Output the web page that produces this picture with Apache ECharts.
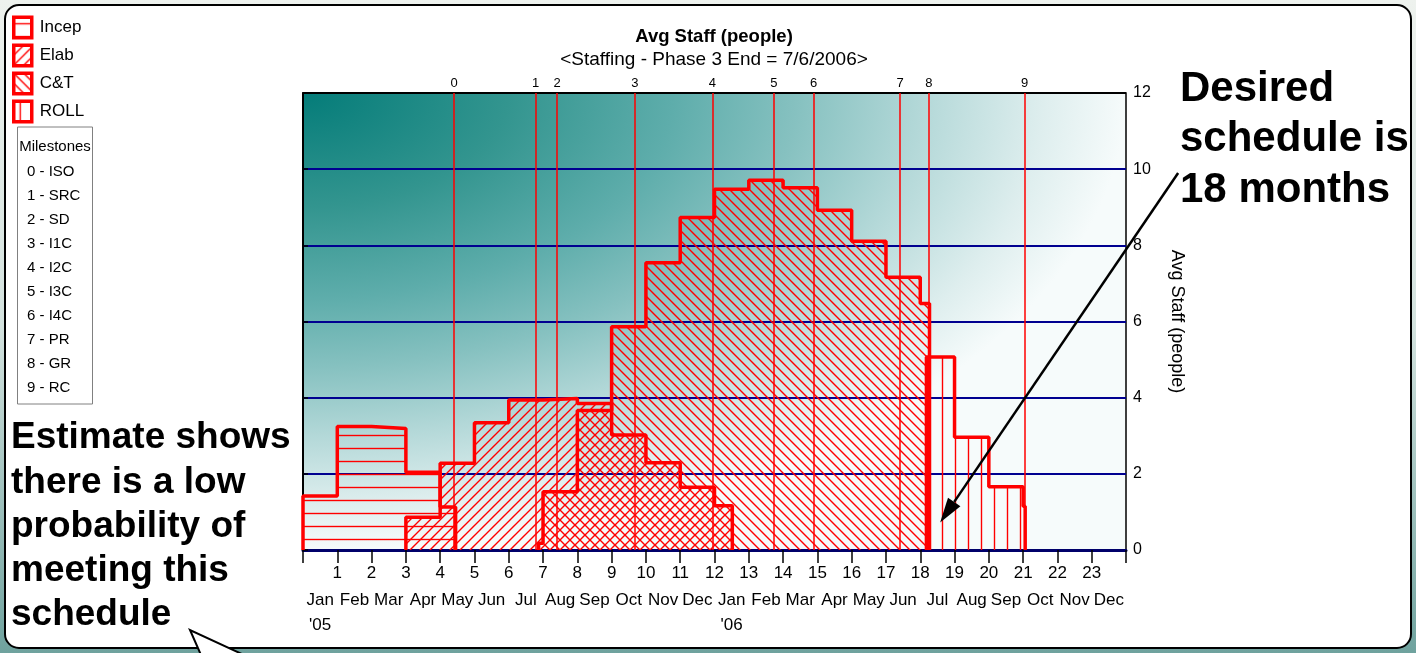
<!DOCTYPE html>
<html><head><meta charset="utf-8">
<script src="https://cdn.jsdelivr.net/npm/echarts@6/dist/echarts.min.js"></script>
<style>
html,body{margin:0;padding:0;}
#c{width:1416px;height:653px;background:linear-gradient(180deg,#eef2ee 0%,#d3e2de 50%,#6fa29e 100%);}
</style>
</head><body><div id="c"></div>
<script>
// ---------------- data ----------------
const monthNames = ['Jan','Feb','Mar','Apr','May','Jun','Jul','Aug','Sep','Oct','Nov','Dec',
                    'Jan','Feb','Mar','Apr','May','Jun','Jul','Aug','Sep','Oct','Nov','Dec'];
const yearLabels = ["'05",'','','','','','','','','','','',"'06",'','','','','','','','','','',''];
const phaseNames = ['Incep','Elab','C&T','ROLL'];
// step boundaries (months) and average staff per step
const incepBounds = [0, 1, 2, 3, 4, 4.45];
const incepValues = [1.42, 3.24, 3.19, 2.04, 1.13];
const elabBounds  = [3, 4, 5, 6, 7, 8, 9, 10, 11, 12, 12.52];
const elabValues  = [0.86, 2.28, 3.34, 3.94, 3.98, 3.85, 3.02, 2.29, 1.65, 1.16];
const ctBounds    = [6.87, 7, 8, 9, 10, 11, 12, 13, 14, 15, 16, 17, 18, 18.27];
const ctValues    = [0.18, 1.53, 3.66, 5.86, 7.54, 8.73, 9.47, 9.71, 9.51, 8.92, 8.11, 7.16, 6.47];
const rollBounds  = [18.18, 19, 20, 21, 21.06];
const rollValues  = [5.07, 2.96, 1.66, 1.15];
const milestoneNames  = ['ISO','SRC','SD','I1C','I2C','I3C','I4C','PR','GR','RC'];
const milestoneMonths = [4.41, 6.78, 7.41, 9.68, 11.94, 13.73, 14.89, 17.41, 18.25, 21.04];
const xMin = 0, xMax = 24, yMin = 0, yMax = 12, yStep = 2;
const arrowTip = [18.58, 0.72], arrowTail = [25.52, 9.9];

// ---------------- styling ----------------
const NARROW = '"Liberation Sans Narrow","Arial Narrow","Liberation Sans",Arial,sans-serif';
const SANS = '"Liberation Sans",Arial,sans-serif';
const RED = '#ff0000';
const GRID = {left: 303, top: 93, width: 823, height: 457};

function hatch(kind) {
  const s = (kind === 'h' || kind === 'v') ? 13 : 10;
  const c = document.createElement('canvas'); c.width = s; c.height = s;
  const g = c.getContext('2d'); g.strokeStyle = RED; g.lineWidth = 1.4;
  g.beginPath();
  if (kind === 'h') { g.moveTo(0, 6.5); g.lineTo(s, 6.5); }
  if (kind === 'v') { g.moveTo(6.5, 0); g.lineTo(6.5, s); }
  if (kind === '/') { g.moveTo(-2, s + 2); g.lineTo(s + 2, -2); g.moveTo(-2, 2); g.lineTo(2, -2); g.moveTo(s - 2, s + 2); g.lineTo(s + 2, s - 2); }
  if (kind === '\\') { g.moveTo(-2, -2); g.lineTo(s + 2, s + 2); g.moveTo(s - 2, -2); g.lineTo(s + 2, 2); g.moveTo(-2, s - 2); g.lineTo(2, s + 2); }
  g.stroke();
  return {image: c, repeat: 'repeat'};
}
const patterns = [hatch('h'), hatch('/'), hatch('\\'), hatch('v')];

function stepData(b, v) {
  const d = [[b[0], 0]];
  for (let i = 0; i < v.length; i++) d.push([b[i], v[i]]);
  d.push([b[b.length - 1], 0]);
  return d;
}
const phaseData = [stepData(incepBounds, incepValues), stepData(elabBounds, elabValues),
                   stepData(ctBounds, ctValues), stepData(rollBounds, rollValues)];

const series = phaseNames.map((n, i) => ({
  type: 'line', name: n, data: phaseData[i], step: 'end', symbol: 'none', silent: true, z: 3,
  lineStyle: {color: RED, width: 3.5},
  itemStyle: {color: patterns[i], borderColor: RED, borderWidth: 3},
  areaStyle: {color: patterns[i], opacity: 1}
}));
series[0].markLine = {
  silent: true, symbol: 'none', animation: false,
  lineStyle: {color: RED, width: 1.5, type: 'solid'},
  label: {position: 'end', formatter: '{b}', color: '#000', fontSize: 13, fontFamily: NARROW, distance: 3},
  data: milestoneMonths.map((m, i) => ({xAxis: m, name: String(i)}))
};

const msTexts = milestoneNames.map((n, i) => ({
  type: 'text', id: 'ms' + i, z: 5, x: 27, y: 172 + 24 * i,
  style: {text: i + ' - ' + n, font: '15px ' + NARROW, fill: '#000', verticalAlign: 'middle'}
}));

// grid line colours: navy for inner lines, black for the top border line
const yLineCount = (yMax - yMin) / yStep + 1;
const splitColors = Array.from({length: yLineCount}, (_, i) => i === yLineCount - 1 ? '#000' : '#000090');

const option = {
  animation: false,
  title: {
    text: 'Avg Staff (people)', subtext: '<Staffing - Phase 3 End = 7/6/2006>',
    left: 714, top: 27, textAlign: 'center', itemGap: 3, padding: 0,
    textStyle: {fontSize: 18.5, fontWeight: 'bold', color: '#000', fontFamily: SANS, lineHeight: 20},
    subtextStyle: {fontSize: 19, color: '#000', fontFamily: SANS, lineHeight: 20}
  },
  legend: {
    orient: 'vertical', left: 12, top: 15.5, padding: 0, itemWidth: 18, itemHeight: 20.5, itemGap: 4,
    selectedMode: false, textStyle: {fontSize: 17, fontFamily: NARROW, color: '#000', lineHeight: 20, padding: [0, 0, 0, 3]},
    data: phaseNames.map((n, i) => ({name: n, icon: 'rect',
      itemStyle: {color: patterns[i], borderColor: RED, borderWidth: 3.5}}))
  },
  grid: Object.assign({show: true, borderColor: '#000', borderWidth: 1.5, backgroundColor: 'transparent',
    containLabel: false, outerBoundsMode: 'none'}, GRID),
  xAxis: [
    {type: 'value', min: xMin, max: xMax, interval: 1, position: 'bottom', z: 1,
     axisLine: {onZero: false, lineStyle: {color: '#00006a', width: 3}},
     axisTick: {length: 13, lineStyle: {color: '#000', width: 1.5}},
     splitLine: {show: false},
     axisLabel: {margin: 15, fontSize: 17, fontFamily: NARROW, color: '#000',
       formatter: v => (v > xMin && v < xMax) ? String(v) : ''}},
    {type: 'category', data: monthNames.map((m, i) => yearLabels[i] ? m + '\n' + yearLabels[i] : m),
     position: 'bottom', boundaryGap: true,
     axisLine: {show: false}, axisTick: {show: false}, splitLine: {show: false},
     axisLabel: {interval: 0, margin: 38, lineHeight: 25, fontSize: 17, fontFamily: NARROW, color: '#000'}}
  ],
  yAxis: [{
    type: 'value', position: 'right', min: yMin, max: yMax, interval: yStep, z: 1,
    name: 'Avg Staff (people)', nameLocation: 'middle', nameRotate: -90, nameGap: 42,
    nameTextStyle: {fontSize: 18, fontFamily: SANS, color: '#000'},
    axisLine: {show: true, lineStyle: {color: '#000', width: 2}},
    axisTick: {show: true, length: 5, lineStyle: {color: '#000', width: 1.5}},
    axisLabel: {margin: 7, fontSize: 16, fontFamily: SANS, color: '#000'},
    splitLine: {show: true, lineStyle: {color: splitColors, width: 2}}
  }],
  graphic: {elements: [
    {type: 'rect', id: 'panel', z: -10, shape: {x: 5, y: 5, width: 1406, height: 643, r: 14},
     style: {fill: '#fff', stroke: '#000', lineWidth: 2}},
    {type: 'polygon', id: 'tailFill', z: -9, shape: {points: [[190, 630], [201, 655], [244, 655]]},
     style: {fill: '#fff'}},
    {type: 'polyline', id: 'tailLine', z: -9, shape: {points: [[201, 655], [190, 630], [244, 655]]},
     style: {stroke: '#000', lineWidth: 2, fill: null}},
    {type: 'rect', id: 'plotBg', z: -8, x: GRID.left, y: GRID.top, scaleY: GRID.height / GRID.width,
     shape: {x: 0, y: 0, width: GRID.width, height: GRID.width},
     style: {fill: {type: 'radial', x: 0, y: 0, r: 1, colorStops: [
       {offset: 0, color: '#047c79'}, {offset: 0.25, color: '#33958f'}, {offset: 0.45, color: '#5eadab'},
       {offset: 0.6, color: '#86c1c0'}, {offset: 0.75, color: '#b3d8d8'}, {offset: 0.9, color: '#deeeee'},
       {offset: 1, color: '#f6fbfb'}]}}},
    {type: 'rect', id: 'msBox', z: 4, shape: {x: 17.5, y: 127, width: 75, height: 277},
     style: {fill: '#fff', stroke: '#808080', lineWidth: 1}},
    {type: 'text', id: 'msTitle', z: 5, x: 55, y: 147,
     style: {text: 'Milestones', font: '15px ' + NARROW, fill: '#000', align: 'center', verticalAlign: 'middle'}},
    ...msTexts,
    {type: 'text', id: 'noteRight', z: 10, x: 1180, y: 64,
     style: {text: 'Desired\nschedule is\n18 months', font: 'bold 42px ' + SANS, lineHeight: 50.5, fill: '#000'}},
    {type: 'text', id: 'noteLeft', z: 10, x: 11, y: 416,
     style: {text: 'Estimate shows\nthere is a low\nprobability of\nmeeting this\nschedule', font: 'bold 37px ' + SANS, lineHeight: 44.2, fill: '#000'}}
  ]},
  series: series
};

const chart = echarts.init(document.getElementById('c'), null, {renderer: 'canvas'});
chart.setOption(option);

// arrow annotation placed through the chart's own coordinate conversion
const tip = chart.convertToPixel({xAxisIndex: 0, yAxisIndex: 0}, arrowTip);
const tail = chart.convertToPixel({xAxisIndex: 0, yAxisIndex: 0}, arrowTail);
const dx = tail[0] - tip[0], dy = tail[1] - tip[1], L = Math.hypot(dx, dy);
const ux = dx / L, uy = dy / L, px = -uy, py = ux, hl = 25, hw = 7.5;
const bx = tip[0] + ux * hl, by = tip[1] + uy * hl;
chart.setOption({graphic: {elements: [
  {type: 'line', id: 'arrowLine', z: 20, shape: {x1: tail[0], y1: tail[1], x2: bx, y2: by},
   style: {stroke: '#000', lineWidth: 2.5}},
  {type: 'polygon', id: 'arrowHead', z: 20,
   shape: {points: [[tip[0], tip[1]], [bx + px * hw, by + py * hw], [bx - px * hw, by - py * hw]]},
   style: {fill: '#000'}}
]}});
</script>
</body></html>
